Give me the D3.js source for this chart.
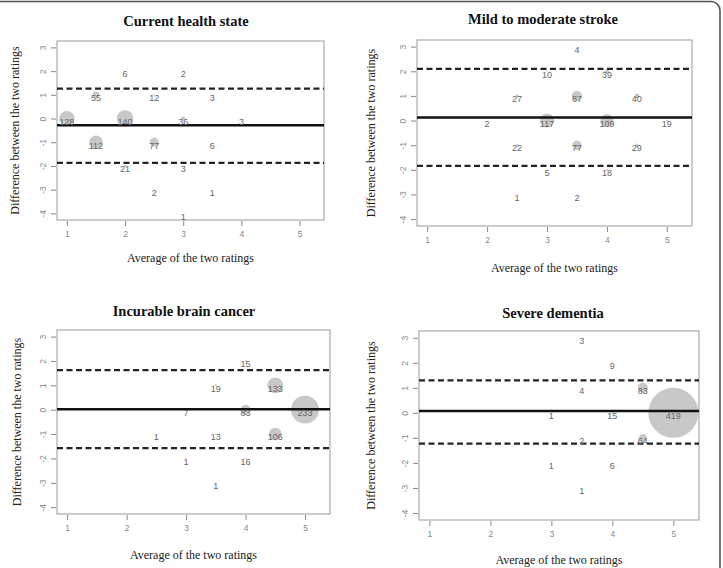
<!DOCTYPE html>
<html><head><meta charset="utf-8">
<script src="https://cdn.jsdelivr.net/npm/d3@7/dist/d3.min.js"></script>
<style>body{margin:0;background:#fff;}svg{display:block;}</style>
</head><body>
<svg id="c" width="723" height="568"></svg>
<script>
const titles = ["Current health state","Mild to moderate stroke","Incurable brain cancer","Severe dementia"];
const xTicks = [1,2,3,4,5];
const yTicks = [3,2,1,0,-1,-2,-3,-4];

const avg1 = [1,2,3,4,1.5,2.5,3.5,2,3,1.5,2.5,3.5,2,3,2.5,3.5,3];
const diff1 = [0,0,0,0,1,1,1,2,2,-1,-1,-1,-2,-2,-3,-3,-4];
const n1 = [128,140,36,3,55,12,3,6,2,112,77,6,21,3,2,1,1];
const lim1 = [-0.28,1.26,-1.87];

const avg2 = [3.5,3,4,2.5,3.5,4.5,2,3,4,5,2.5,3.5,4.5,3,4,2.5,3.5];
const diff2 = [3,2,2,1,1,1,0,0,0,0,-1,-1,-1,-2,-2,-3,-3];
const n2 = [4,10,39,27,87,40,2,117,109,19,22,77,29,5,18,1,2];
const lim2 = [0.12,2.1,-1.84];

const avg3 = [4,3.5,4.5,3,4,5,2.5,3.5,4.5,3,4,3.5];
const diff3 = [2,1,1,0,0,0,-1,-1,-1,-2,-2,-3];
const n3 = [15,19,133,7,83,233,1,13,106,1,16,1];
const lim3 = [0.02,1.62,-1.58];

const avg4 = [3.5,4,3.5,4.5,3,4,5,3.5,4.5,3,4,3.5];
const diff4 = [3,2,1,1,0,0,0,-1,-1,-2,-2,-3];
const n4 = [3,9,4,83,1,15,419,2,64,1,6,1];
const lim4 = [0.07,1.3,-1.23];

const xLabel = "Average of the two ratings";
const yLabel = "Difference between the two ratings";

const boxes = [
  {l:57,r:324,t:41,b:220, tx:186, ty:26, yl:15, xly:262},
  {l:417,r:692,t:40,b:226, tx:543, ty:24, yl:371, xly:272},
  {l:57,r:330,t:330,b:514, tx:184, ty:316, yl:17, xly:559},
  {l:419,r:699,t:331,b:520, tx:553, ty:318, yl:371, xly:564}
];
const data = [[avg1,diff1,n1,lim1],[avg2,diff2,n2,lim2],[avg3,diff3,n3,lim3],[avg4,diff4,n4,lim4]];

const svg = d3.select("#c");
svg.append("rect").attr("x",-20).attr("y",1.5).attr("width",740).attr("height",620)
  .attr("rx",9).attr("fill","none").attr("stroke","#555").attr("stroke-width",1.6);

const rScale = d3.scaleLinear().domain([0,419]).range([0,25]);

boxes.forEach((bx,i)=>{
  const [av,df,nn,lim] = data[i];
  const x = d3.scaleLinear().domain([0.83,5.42]).range([bx.l,bx.r]);
  const y = d3.scaleLinear().domain([-4.28,3.27]).range([bx.b,bx.t]);
  const g = svg.append("g");
  g.append("rect").attr("x",bx.l).attr("y",bx.t).attr("width",bx.r-bx.l).attr("height",bx.b-bx.t)
    .attr("fill","none").attr("stroke","#999").attr("stroke-width",1);
  const xa = g.append("g").attr("transform",`translate(0,${bx.b+1})`)
    .call(d3.axisBottom(x).tickValues(xTicks).tickSize(5).tickPadding(5).tickFormat(d3.format("d")));
  const ya = g.append("g").attr("transform",`translate(${bx.l-1},0)`)
    .call(d3.axisLeft(y).tickValues(yTicks).tickSize(5).tickFormat(d=>String(d)));
  [xa,ya].forEach(a=>{
    a.select(".domain").remove();
    a.selectAll("line").attr("stroke","#888");
    a.selectAll("text").attr("fill","#888").style("font-family","Liberation Sans, Arial, sans-serif").style("font-size","8.5px");
  });
  ya.selectAll("text").attr("x",null).attr("y",null)
    .attr("transform","translate(-13,0) rotate(-90)").attr("dy","0.35em").attr("text-anchor","middle");
  const pts = av.map((a,k)=>({a, d:df[k], n:nn[k]}));
  g.selectAll("circle").data(pts).enter().append("circle")
    .attr("cx",p=>x(p.a)).attr("cy",p=>y(p.d)).attr("r",p=>rScale(p.n)).attr("fill","#c8c8c8");
  g.append("line").attr("x1",bx.l).attr("x2",bx.r).attr("y1",y(lim[0])).attr("y2",y(lim[0]))
    .attr("stroke","#111").attr("stroke-width",2.5);
  [lim[1],lim[2]].forEach(v=>{
    g.append("line").attr("x1",bx.l).attr("x2",bx.r).attr("y1",y(v)).attr("y2",y(v))
      .attr("stroke","#222").attr("stroke-width",2.2).attr("stroke-dasharray","6,3.5");
  });
  g.selectAll("text.lab").data(pts).enter().append("text").attr("class","lab")
    .attr("x",p=>x(p.a)).attr("y",p=>y(p.d)).attr("dy","0.7em").attr("text-anchor","middle")
    .attr("fill","#666").style("font-family","Liberation Sans, Arial, sans-serif").style("font-size","9px")
    .text(p=>p.n);
  g.append("text").attr("x",bx.tx).attr("y",bx.ty).attr("text-anchor","middle")
    .style("font-family","Liberation Serif, Times New Roman, serif").style("font-weight","bold").style("font-size","14.5px")
    .attr("fill","#111").text(titles[i]);
  g.append("text").attr("x",(bx.l+bx.r)/2).attr("y",bx.xly).attr("text-anchor","middle")
    .style("font-family","Liberation Serif, Times New Roman, serif").style("font-size","12px")
    .attr("fill","#222").text(xLabel);
  g.append("text").attr("transform",`translate(${bx.yl},${(bx.t+bx.b)/2}) rotate(-90)`).attr("dy","0.35em")
    .attr("text-anchor","middle")
    .style("font-family","Liberation Serif, Times New Roman, serif").style("font-size","12px")
    .attr("fill","#222").text(yLabel);
});
</script>
</body></html>
